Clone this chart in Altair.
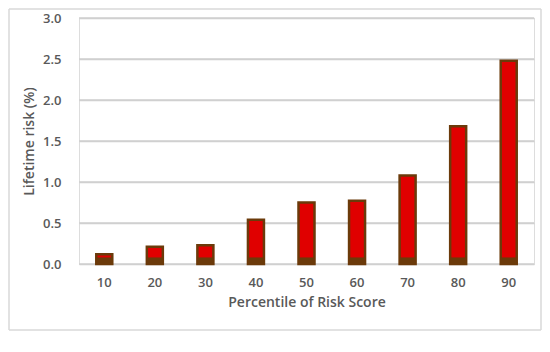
import altair as alt
import pandas as pd

percentiles = ["10", "20", "30", "40", "50", "60", "70", "80", "90"]
risk = [0.12, 0.21, 0.23, 0.54, 0.75, 0.77, 1.08, 1.68, 2.48]
y_ticks = [0, 0.5, 1, 1.5, 2, 2.5, 3]
base_band = 0.08

df = pd.DataFrame({"p": percentiles, "risk": risk})
df["base"] = base_band
grid_df = pd.DataFrame({"t": y_ticks})

FONT = "Open Sans"
GRAY = "#595959"

xenc = alt.X("p:N", sort=percentiles, title="Percentile of Risk Score",
             scale=alt.Scale(paddingInner=0.0, paddingOuter=0.0),
             axis=alt.Axis(labelAngle=0, ticks=False, domain=False, grid=False, labelPadding=12,
                           labelFontSize=13, labelColor=GRAY, labelFont=FONT, labelFontWeight=600,
                           titleFontSize=14, titleColor=GRAY, titleFont=FONT, titleFontWeight=600,
                           titlePadding=6))
yscale = alt.Scale(domain=[0, 3], nice=False)
yaxis = alt.Axis(values=y_ticks, format=".1f", ticks=False, domain=False, grid=True,
                 gridColor="#d0d0d0", gridWidth=1.5,
                 labelPadding=18, labelFontSize=13, labelColor=GRAY, labelFont=FONT, labelFontWeight=600,
                 titleFontSize=14, titleColor=GRAY, titleFont=FONT, titleFontWeight=600,
                 titlePadding=6)

grid = alt.Chart(grid_df).mark_rule(color="#d0d0d0", strokeWidth=1.5).encode(
    y=alt.Y("t:Q", scale=yscale, title="Lifetime risk (%)", axis=yaxis),
    x=alt.value(0), x2=alt.value(455))

bars = alt.Chart(df).mark_bar(width=16, color="#e00000", stroke="#6b3a0a", strokeWidth=2.5).encode(
    x=xenc, y=alt.Y("risk:Q", scale=yscale, title="Lifetime risk (%)", axis=yaxis))

base = alt.Chart(df).mark_bar(width=16, color="#6b3a0a").encode(
    x=xenc, y=alt.Y("base:Q", scale=yscale, title="Lifetime risk (%)", axis=yaxis))

frame_df = pd.DataFrame({"k": [1]})
FR = dict(color="#d9d9d9", strokeWidth=1.5)
top = alt.Chart(frame_df).mark_rule(**FR).encode(x=alt.value(-70), x2=alt.value(462), y=alt.value(-9), y2=alt.value(-9))
bottom = alt.Chart(frame_df).mark_rule(**FR).encode(x=alt.value(-70), x2=alt.value(462), y=alt.value(312), y2=alt.value(312))
left = alt.Chart(frame_df).mark_rule(**FR).encode(x=alt.value(-70), x2=alt.value(-70), y=alt.value(-9), y2=alt.value(312))
right = alt.Chart(frame_df).mark_rule(**FR).encode(x=alt.value(462), x2=alt.value(462), y=alt.value(-9), y2=alt.value(312))

chart = alt.layer(grid, bars, base, top, bottom, left, right).properties(
    width=455, height=246,
    autosize=alt.AutoSizeParams(type="none"),
    padding={"left": 71, "top": 10, "right": 8, "bottom": 84},
    title=alt.TitleParams(text="(b)", orient="bottom", anchor="middle", font="Liberation Serif",
                          fontWeight="bold", fontSize=13, color="black", offset=60),
).configure(background="white")

chart.save("out.html", embed_options={"renderer": "svg", "actions": False})
